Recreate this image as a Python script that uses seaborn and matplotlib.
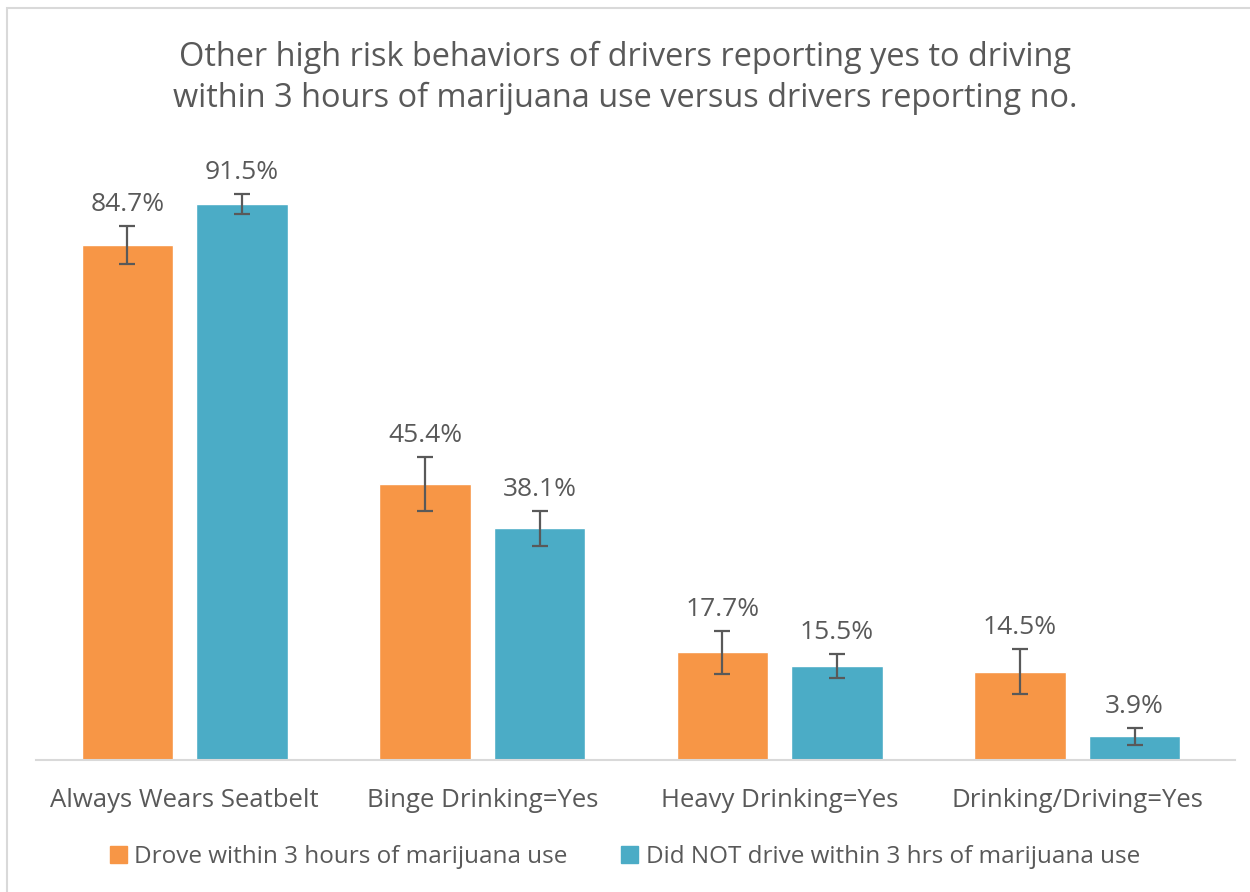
import pandas as pd
import numpy as np
import matplotlib
matplotlib.use("Agg")
import matplotlib.pyplot as plt
import seaborn as sns
from matplotlib.patches import Rectangle

categories = ["Always Wears Seatbelt", "Binge Drinking=Yes",
              "Heavy Drinking=Yes", "Drinking/Driving=Yes"]
groups = ["Drove within 3 hours of marijuana use",
          "Did NOT drive within 3 hrs of marijuana use"]
drove = [84.7, 45.4, 17.7, 14.5]
not_drove = [91.5, 38.1, 15.5, 3.9]
drove_err = [3.1, 4.4, 3.5, 3.7]
not_drove_err = [1.6, 2.9, 2.0, 1.4]

ORANGE = "#F79646"
BLUE = "#4BACC6"
TEXT = "#595959"

df = pd.DataFrame({
    "category": categories * 2,
    "group": [groups[0]] * 4 + [groups[1]] * 4,
    "value": drove + not_drove,
    "err": drove_err + not_drove_err,
})

sns.set_theme(style="white")
plt.rcParams["font.family"] = ["Open Sans", "DejaVu Sans"]

fig = plt.figure(figsize=(12.5, 8.92), dpi=100)
ax = fig.add_axes([36 / 1250, 1 - 760 / 892, 1199 / 1250, 607.7 / 892])

sns.barplot(data=df, x="category", y="value", hue="group", order=categories,
            hue_order=groups, palette=[ORANGE, BLUE], width=0.77, gap=0.2,
            errorbar=None, saturation=1, ax=ax, legend=False)

# error bars and value labels, matched to bars in hue order
bars = [p for p in ax.patches if p.get_height() > 0]
for bar, (_, row) in zip(bars, df.iterrows()):
    cx = bar.get_x() + bar.get_width() / 2
    ax.errorbar(cx, row["value"], yerr=row["err"], fmt="none", ecolor="#595959",
                elinewidth=1.6, capsize=6, capthick=1.6)
    ax.text(cx, row["value"] + row["err"] + 1.5, f"{row['value']:.1f}%",
            ha="center", va="bottom", fontsize=19, color=TEXT)

ax.set_ylim(0, 100)
ax.set_xlim(-0.5, 3.5 + 9 / 297.5)
ax.set_yticks([])
ax.set_xlabel("")
ax.set_ylabel("")
for s in ["top", "right", "left"]:
    ax.spines[s].set_visible(False)
ax.spines["bottom"].set_color("#D9D9D9")
ax.spines["bottom"].set_linewidth(1.5)
ax.tick_params(axis="x", length=0, pad=20, labelsize=18.5, labelcolor=TEXT)

fig.text(0.5, 1 - 78 / 892, "Other high risk behaviors of drivers reporting yes to driving\n"
         "within 3 hours of marijuana use versus drivers reporting no.",
         ha="center", va="center", fontsize=23.4, color=TEXT, linespacing=1.3)

handles = [Rectangle((0, 0), 1, 1, color=c) for c in [ORANGE, BLUE]]
fig.legend(handles, groups, loc="center", bbox_to_anchor=(0.5, 1 - 857 / 892),
           ncol=2, frameon=False, fontsize=17.5, labelcolor=TEXT,
           handlelength=0.7, handleheight=0.7, handletextpad=0.3, columnspacing=2.2)

# chart frame
fig.patches.append(Rectangle((7 / 1250, -0.01), 1.02, 1 - 8 / 892 + 0.01,
                             transform=fig.transFigure, fill=False,
                             edgecolor="#D9D9D9", linewidth=1.5))

fig.savefig("out.png", dpi=100)
